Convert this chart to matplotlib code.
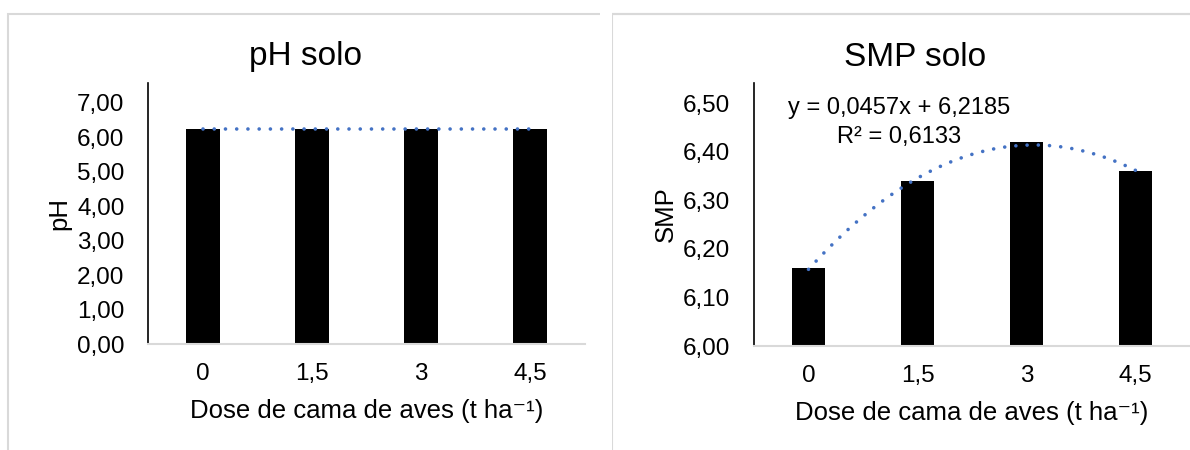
"""
Soil pH and SMP index vs. poultry litter dose: two Excel-style bar panels.
"""

import numpy as np

import matplotlib
matplotlib.use("Agg")
import matplotlib.pyplot as plt  # noqa: E402
from matplotlib.patches import Rectangle  # noqa: E402

plt.rcParams["font.family"] = ["Liberation Sans", "DejaVu Sans"]

doses = ["0", "1,5", "3", "4,5"]
ph_values = [6.24, 6.24, 6.24, 6.24]
smp_values = [6.16, 6.34, 6.42, 6.36]

ph_ticks = [0, 1, 2, 3, 4, 5, 6, 7]
smp_ticks = [6.0, 6.1, 6.2, 6.3, 6.4, 6.5]

smp_equation = "y = 0,0457x + 6,2185\nR² = 0,6133"

XLABEL = "Dose de cama de aves (t ha⁻¹)"
TREND_COLOR = "#4472C4"
GRID_GRAY = "#d9d9d9"
W, H = 1190, 450


def _comma(v):
    return f"{v:.2f}".replace(".", ",")


def _panel(ax, values, ticks, ylim, ylabel, trend_deg):
    x = np.arange(len(values))
    ax.bar(x, values, width=0.31, color="black", zorder=2)

    # Excel trendline: least-squares polynomial through the bar values
    coef = np.polyfit(x, values, trend_deg)
    xs = np.linspace(x[0], x[-1], 200)
    ax.plot(xs, np.polyval(coef, xs), color=TREND_COLOR, lw=2.6,
            linestyle=(0, (0.01, 3.1)), dash_capstyle="round", zorder=3)

    ax.set_xlim(-0.5, 3.5)
    ax.set_ylim(*ylim)
    ax.set_xticks(x, doses)
    ax.set_yticks(ticks, [_comma(t) for t in ticks])
    ax.tick_params(length=0, labelsize=17.5)
    ax.tick_params(axis="y", pad=17)
    ax.tick_params(axis="x", pad=14)
    for s in ("top", "right"):
        ax.spines[s].set_visible(False)
    ax.spines["left"].set_color("black")
    ax.spines["left"].set_linewidth(1.2)
    ax.spines["bottom"].set_color(GRID_GRAY)
    ax.spines["bottom"].set_linewidth(1.5)
    ax.set_xlabel(XLABEL, fontsize=18.5, labelpad=10)
    ax.set_ylabel(ylabel, fontsize=18.5, labelpad=4)


fig = plt.figure(figsize=(11.9, 4.5), dpi=100)

# chart-area frames (only top/left edges fall inside the picture)
for x0 in (8, 612):
    fig.patches.append(Rectangle((x0 / W, -0.2), 1.5, (H - 14) / H + 0.2,
                                 transform=fig.transFigure, fill=False,
                                 edgecolor=GRID_GRAY, lw=1.5))
fig.patches.append(Rectangle((600 / W, 0), 12 / W, 1, transform=fig.transFigure,
                             facecolor="white", edgecolor="none"))

ax1 = fig.add_axes([148 / W, (H - 344) / H, 437 / W, 261 / H])
_panel(ax1, ph_values, ph_ticks, (0, 7.58), "pH", 1)

ax2 = fig.add_axes([754 / W, (H - 346) / H, 436 / W, 263 / H])
_panel(ax2, smp_values, smp_ticks, (6.0, 6.542), "SMP", 2)
ax2.text(0.83, 6.460, smp_equation, ha="center", va="center", fontsize=17,
         multialignment="center", linespacing=1.4)

# titles are centred on the chart area, not on the plot area
fig.text(306 / W, 1 - 57 / H, "pH solo", ha="center", va="center", fontsize=24)
fig.text(915 / W, 1 - 57 / H, "SMP solo", ha="center", va="center", fontsize=24)

fig.savefig("out.png", dpi=100)
plt.close(fig)
